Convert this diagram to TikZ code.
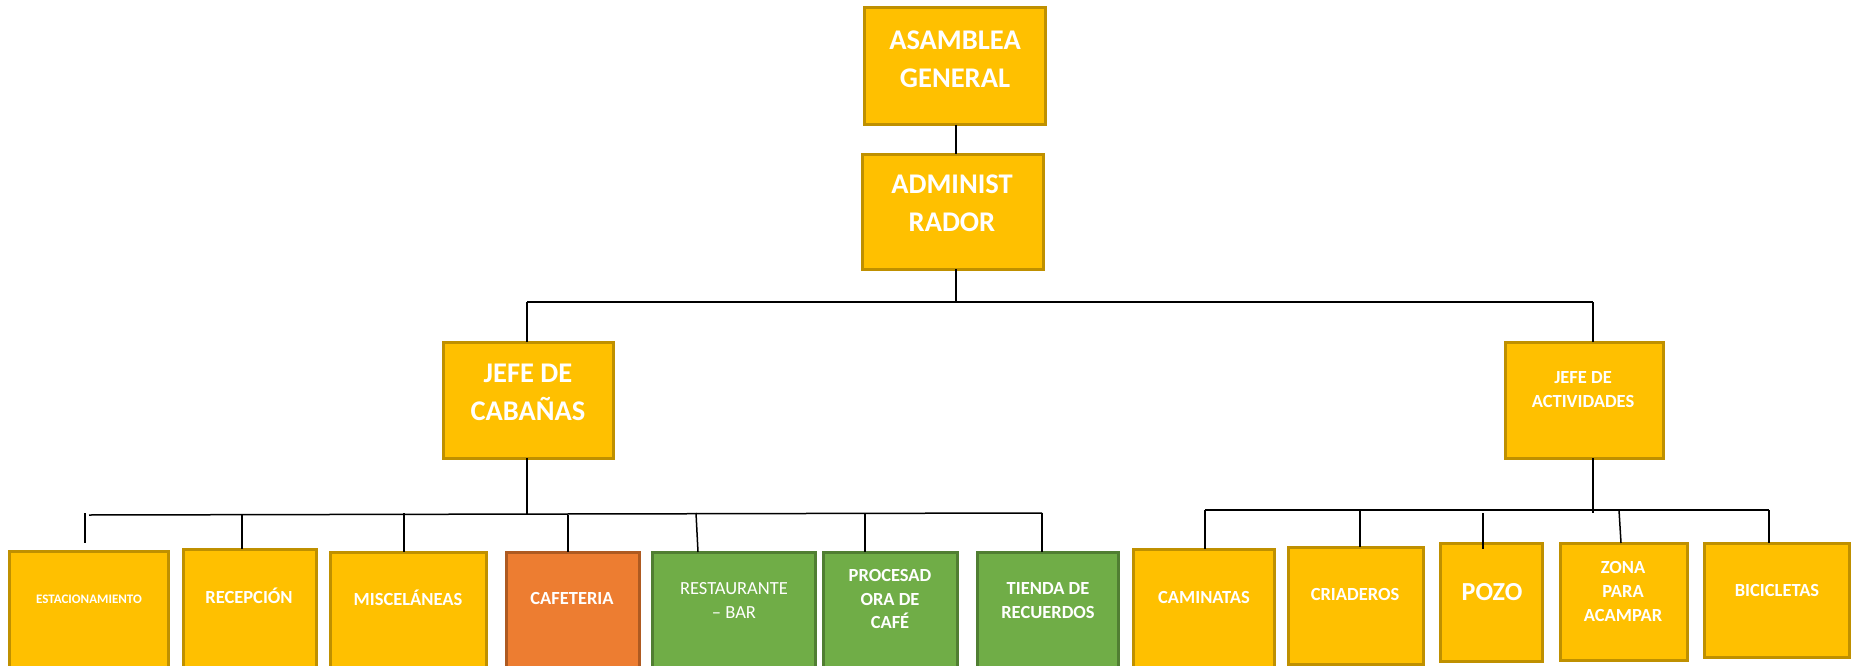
\documentclass[tikz,border=0pt]{standalone}
\usepackage{fontspec}
\setmainfont{Carlito}
\definecolor{gold}{HTML}{FFC000}
\definecolor{golddark}{HTML}{BF9000}
\definecolor{orng}{HTML}{ED7D31}
\definecolor{orngdark}{HTML}{AE5A21}
\definecolor{grn}{HTML}{70AD47}
\definecolor{grndark}{HTML}{507E32}
\newcommand\ubox[6]{\node[#6, minimum width=#4pt-#2pt, minimum height=#5pt-#3pt] (#1) at (#2,#3) {};}
\begin{document}
\begin{tikzpicture}[x=1pt,y=-1pt,
  box/.style={draw=golddark, fill=gold, line width=3pt, inner sep=0pt, outer sep=0pt, anchor=north west},
  obox/.style={box, draw=orngdark, fill=orng},
  gbox/.style={box, draw=grndark, fill=grn},
  txt/.style={text=white, align=center, inner sep=0pt, font=\bfseries\fontsize{18.5}{23.5}\selectfont},
  bigtxt/.style={txt, font=\bfseries\fontsize{28.5}{38}\selectfont},
  single/.style={text height=0.644em, text depth=0pt},
  conn/.style={draw=black, line width=1.5pt}]
\useasboundingbox (0,0) rectangle (1852,666);
\clip (0,0) rectangle (1852,666);
\fill[white] (0,0) rectangle (1852,666);

% boxes
\ubox{asamblea}{864}{8}{1045}{125}{box}
\ubox{admin}{862}{154}{1043}{269}{box}
\ubox{cabanas}{443}{342}{613}{458}{box}
\ubox{activ}{1505}{342}{1663}{458}{box}
\ubox{estac}{9}{551}{168}{690}{box}
\ubox{recep}{183}{549}{316}{690}{box}
\ubox{misc}{330}{552}{486}{690}{box}
\ubox{cafe}{506}{552}{639}{690}{obox}
\ubox{rest}{652}{552}{815}{690}{gbox}
\ubox{proc}{823}{552}{957}{690}{gbox}
\ubox{tienda}{977}{552}{1118}{690}{gbox}
\ubox{camin}{1133}{549}{1274}{690}{box}
\ubox{criad}{1288}{547}{1423}{664}{box}
\ubox{pozo}{1440}{543}{1542}{661}{box}
\ubox{zona}{1560}{543}{1687}{660}{box}
\ubox{bici}{1704}{543}{1849}{657}{box}

% texts
\node[bigtxt] (asamblea-t) at (955,59) {ASAMBLEA\\GENERAL};
\node[bigtxt] (admin-t) at (952,203) {ADMINIST\\RADOR};
\node[bigtxt] (cabanas-t) at (528,392) {JEFE DE\\CABAÑAS};
\node[txt] (activ-t) at (1583,389.5) {JEFE DE\\ACTIVIDADES};
\node[txt, single, font=\bfseries\fontsize{13}{16}\selectfont] (estac-t) at (89,600) {ESTACIONAMIENTO};
\node[txt, single] (recep-t) at (249,600.5) {RECEPCIÓN};
\node[txt, single] (misc-t) at (408,602.5) {MISCELÁNEAS};
\node[txt, single] (cafe-t) at (572,601.5) {CAFETERIA};
\node[txt, font=\fontsize{18.5}{24}\selectfont] (rest-t) at (734,600) {RESTAURANTE\\– BAR};
\node[txt] (proc-t) at (890,599) {PROCESAD\\ORA DE\\CAFÉ};
\node[txt, font=\bfseries\fontsize{18.5}{24}\selectfont] (tienda-t) at (1048,601) {TIENDA DE\\RECUERDOS};
\node[txt, single] (camin-t) at (1204,600.5) {CAMINATAS};
\node[txt, single] (criad-t) at (1355,597.5) {CRIADEROS};
\node[txt, single, font=\bfseries\fontsize{26}{31}\selectfont] (pozo-t) at (1492,597) {POZO};
\node[txt, font=\bfseries\fontsize{18.5}{24}\selectfont] (zona-t) at (1623,591) {ZONA\\PARA\\ACAMPAR};
\node[txt, single] (bici-t) at (1777,593.5) {BICICLETAS};

% connector coordinates
\coordinate (busA-L) at (527,302);
\coordinate (busA-M) at (956,302);
\coordinate (busA-R) at (1593,302);
\coordinate (busB-L) at (89,515);
\coordinate (busB-M) at (527,514);
\coordinate (busB-R) at (1042,513);
\coordinate (busC-L) at (1205,510);
\coordinate (busC-M) at (1593,513);
\coordinate (busC-R) at (1769,510);
\coordinate (s-estac) at (85,513);
\coordinate (s-estac-e) at (85,543);
\coordinate (s-recep) at (242,514);
\coordinate (s-misc) at (404,513);
\coordinate (s-cafe) at (568,515);
\coordinate (s-rest) at (696,513);
\coordinate (s-proc) at (865,513);
\coordinate (s-crid) at (1360,510);
\coordinate (s-pozo) at (1483,513);
\coordinate (s-pozo-e) at (1483,549);
\coordinate (s-zona) at (1619,510);

% connectors
\draw[conn] (asamblea.south -| busA-M) -- (admin.north -| busA-M);
\draw[conn] (admin.south -| busA-M) -- (busA-M);
\draw[conn] (busA-L) -- (busA-R);
\draw[conn] (busA-L) -- (busA-L |- cabanas.north);
\draw[conn] (busA-R) -- (busA-R |- activ.north);
\draw[conn] (cabanas.south -| busB-M) -- (busB-M);
\draw[conn] (busB-L) -- (busB-R);
\draw[conn] (s-estac) -- (s-estac-e);
\draw[conn] (s-recep) -- (s-recep |- recep.north);
\draw[conn] (s-misc) -- (s-misc |- misc.north);
\draw[conn] (s-cafe) -- (s-cafe |- cafe.north);
\draw[conn] (s-rest) -- ([xshift=2pt]s-rest |- rest.north);
\draw[conn] (s-proc) -- (s-proc |- proc.north);
\draw[conn] (busB-R) -- (busB-R |- tienda.north);
\draw[conn] (activ.south -| busC-M) -- (busC-M);
\draw[conn] (busC-L) -- (busC-R);
\draw[conn] (busC-L) -- (busC-L |- camin.north);
\draw[conn] (s-crid) -- (s-crid |- criad.north);
\draw[conn] (s-pozo) -- (s-pozo-e);
\draw[conn] (s-zona) -- ([xshift=2pt]s-zona |- zona.north);
\draw[conn] (busC-R) -- (busC-R |- bici.north);
\end{tikzpicture}
\end{document}
